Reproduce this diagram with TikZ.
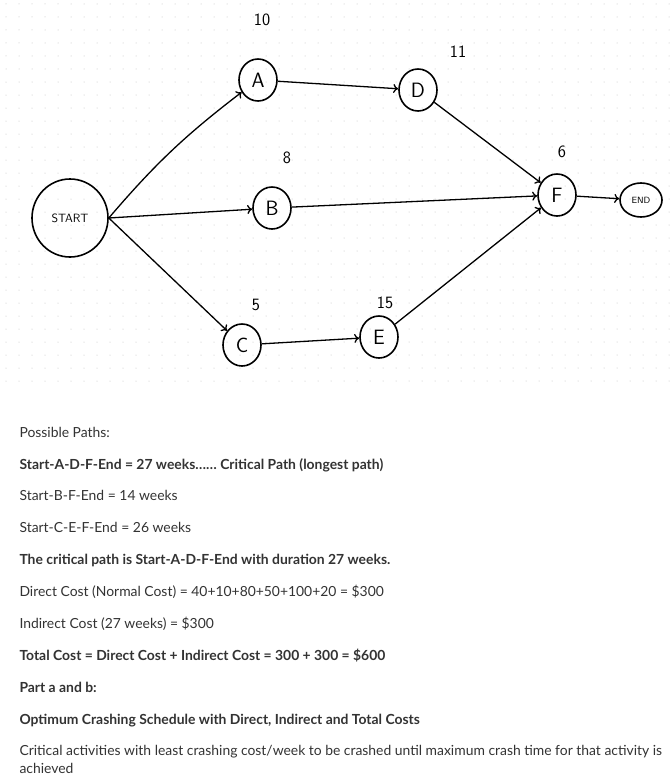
\documentclass[tikz,border=0pt]{standalone}
\usepackage{fontspec}
\setmainfont{Lato}
\usetikzlibrary{arrows.meta,shapes.geometric}
\begin{document}
\begin{tikzpicture}[x=1pt,y=-1pt,
  ev/.style={draw,ellipse,line width=1.6pt,inner sep=0pt,minimum width=38pt,minimum height=42pt,font=\sffamily\huge},
  con/.style={line width=1.3pt,-{To[length=5pt,width=9pt]}},
  num/.style={font=\sffamily\LARGE},
  txt/.style={anchor=base west,font=\fontsize{13.9}{16}\selectfont,text=black!80},
  btxt/.style={txt,font=\fontsize{13.9}{16}\selectfont\bfseries}]
\useasboundingbox (0,0) rectangle (669,784);
\fill[white] (0,0) rectangle (669,784);
\foreach \i in {0,...,51} \foreach \j in {0,...,29}
  \fill[black!25] (6+\i*13,4+\j*13) circle (0.5pt);
\node[ev,minimum width=76pt,minimum height=78pt,font=\sffamily\large] (S) at (70,218) {START};
\node[ev] (A) at (258,80) {A};
\node[ev] (D) at (418,90) {D};
\node[ev] (B) at (272,208) {B};
\node[ev] (F) at (557,195) {F};
\node[ev,minimum width=42pt,minimum height=34pt,font=\sffamily\small] (END) at (641,200) {END};
\node[ev] (C) at (242,345) {C};
\node[ev] (E) at (379,337) {E};
\node[num] (nA) at (262,20) {10};
\node[num] (nD) at (458,52) {11};
\node[num] (nB) at (287,158) {8};
\node[num] (nF) at (562,152) {6};
\node[num] (nC) at (256,305) {5};
\node[num] (nE) at (385,303) {15};
\draw[con] (S.east) to[bend left=6] (A);
\draw[con] (S.east) -- (B);
\draw[con] (S.east) -- (C);
\draw[con] (A) -- (D);
\draw[con] (D) -- (F);
\draw[con] (B) -- (F);
\draw[con] (C) -- (E);
\draw[con] (E) -- (F);
\draw[con] (F) -- (END);
\node[txt] (t1) at (16,437) {Possible Paths:};
\node[btxt] (t2) at (16,469) {Start-A-D-F-End = 27 weeks\ldots\ldots{} Critical Path (longest path)};
\node[txt] (t3) at (16,500) {Start-B-F-End = 14 weeks};
\node[txt] (t4) at (16,532) {Start-C-E-F-End = 26 weeks};
\node[btxt] (t5) at (16,564) {The critical path is Start-A-D-F-End with duration 27 weeks.};
\node[txt] (t6) at (16,596) {Direct Cost (Normal Cost) = 40+10+80+50+100+20 = \$300};
\node[txt] (t7) at (16,628) {Indirect Cost (27 weeks) = \$300};
\node[btxt] (t8) at (16,660) {Total Cost = Direct Cost + Indirect Cost = 300 + 300 = \$600};
\node[btxt] (t9) at (16,692) {Part a and b:};
\node[btxt] (t10) at (16,724) {Optimum Crashing Schedule with Direct, Indirect and Total Costs};
\node[txt] (t11) at (16,755) {Critical activities with least crashing cost/week to be crashed until maximum crash time for that activity is};
\node[txt] (t12) at (16,773) {achieved};
\end{tikzpicture}
\end{document}
